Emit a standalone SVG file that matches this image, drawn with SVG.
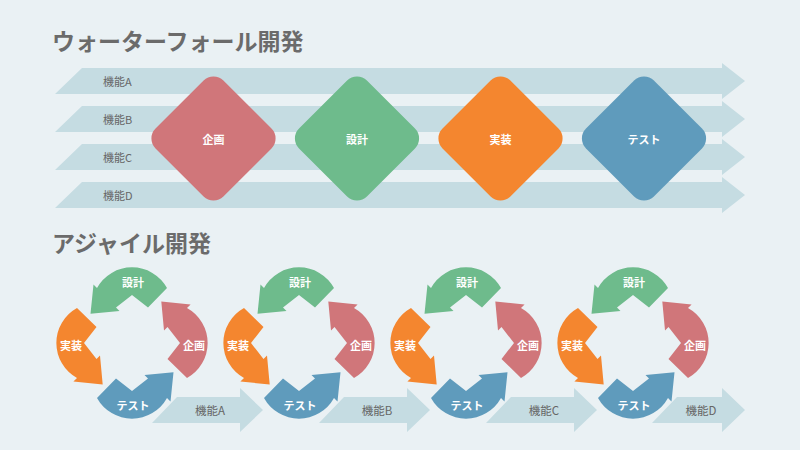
<svg xmlns="http://www.w3.org/2000/svg" xmlns:xlink="http://www.w3.org/1999/xlink" width="800" height="450" viewBox="0 0 800 450">
<defs>
<style>
text{font-family:"Noto Sans CJK JP","Noto Sans",sans-serif}
.title{font-size:23px;font-weight:700;fill:#6b6b6b;dominant-baseline:central}
.lbl{font-size:11px;fill:#666;dominant-baseline:central}
.flbl{font-size:11.5px;fill:#666;text-anchor:middle;dominant-baseline:central}
.wl{font-size:11px;font-weight:700;fill:#fff;text-anchor:middle;dominant-baseline:central}
.band{fill:#c5dce2}
.red{fill:#d0767a}
.green{fill:#6ebb8c}
.orange{fill:#f4862f}
.blue{fill:#5f9bbc}
</style>
<path id="bandArrow" d="M0,13 L27,-13 L667,-13 L667,-18 L690,0 L667,18 L667,13 Z"/>
<path id="featArrow" d="M0,13 L25,-13 L88,-13 L88,-22 L111,0 L88,22 L88,13 Z"/>
<path id="featArrowShort" d="M0,13 L25,-13 L70,-13 L70,-22 L93,0 L70,22 L70,13 Z"/>
<rect id="dia" x="-48" y="-48" width="96" height="96" rx="14" transform="rotate(45)"/>
<path id="seg" d="M-16,-35.5 L0,-48 L16,-35.5 L35,-55 A40,40 0 0 0 -35,-55 L-38.5,-58.6 L-41.5,-29.3 L-12.5,-32 Z"/>
</defs>
<rect width="800" height="450" fill="#eaf1f4"/>

<text class="title" x="52" y="40">ウォーターフォール開発</text>
<text class="title" x="52" y="242">アジャイル開発</text>

<g id="connectors">
  <use xlink:href="#bandArrow" class="band" transform="translate(55,81)"/>
  <use xlink:href="#bandArrow" class="band" transform="translate(55,119)"/>
  <use xlink:href="#bandArrow" class="band" transform="translate(55,157)"/>
  <use xlink:href="#bandArrow" class="band" transform="translate(55,195)"/>
  <use xlink:href="#featArrow" class="band" transform="translate(152,410)"/>
  <use xlink:href="#featArrow" class="band" transform="translate(319,410)"/>
  <use xlink:href="#featArrow" class="band" transform="translate(486,410)"/>
  <use xlink:href="#featArrowShort" class="band" transform="translate(652,410)"/>
</g>

<g id="band-labels">
  <text class="lbl" x="103" y="81">機能A</text>
  <text class="lbl" x="103" y="119">機能B</text>
  <text class="lbl" x="103" y="157">機能C</text>
  <text class="lbl" x="103" y="195">機能D</text>
  <text class="flbl" x="210" y="410">機能A</text>
  <text class="flbl" x="377" y="410">機能B</text>
  <text class="flbl" x="544" y="410">機能C</text>
  <text class="flbl" x="701" y="410">機能D</text>
</g>

<g id="wf-plan" transform="translate(213.5,138.5)"><use xlink:href="#dia" class="red"/><text class="wl" x="0" y="0">企画</text></g>
<g id="wf-design" transform="translate(357,138.5)"><use xlink:href="#dia" class="green"/><text class="wl" x="0" y="0">設計</text></g>
<g id="wf-impl" transform="translate(500.5,138.5)"><use xlink:href="#dia" class="orange"/><text class="wl" x="0" y="0">実装</text></g>
<g id="wf-test" transform="translate(644,138.5)"><use xlink:href="#dia" class="blue"/><text class="wl" x="0" y="0">テスト</text></g>

<g id="cycle1" transform="translate(132,343)">
  <g id="c1-plan"><use xlink:href="#seg" class="red" transform="rotate(90)"/><text class="wl" x="62" y="2">企画</text></g>
  <g id="c1-design"><use xlink:href="#seg" class="green"/><text class="wl" x="1" y="-61">設計</text></g>
  <g id="c1-impl"><use xlink:href="#seg" class="orange" transform="rotate(-90)"/><text class="wl" x="-61" y="2">実装</text></g>
  <g id="c1-test"><use xlink:href="#seg" class="blue" transform="rotate(180)"/><text class="wl" x="1" y="62">テスト</text></g>
</g>
<g id="cycle2" transform="translate(299,343)">
  <g id="c2-plan"><use xlink:href="#seg" class="red" transform="rotate(90)"/><text class="wl" x="62" y="2">企画</text></g>
  <g id="c2-design"><use xlink:href="#seg" class="green"/><text class="wl" x="1" y="-61">設計</text></g>
  <g id="c2-impl"><use xlink:href="#seg" class="orange" transform="rotate(-90)"/><text class="wl" x="-61" y="2">実装</text></g>
  <g id="c2-test"><use xlink:href="#seg" class="blue" transform="rotate(180)"/><text class="wl" x="1" y="62">テスト</text></g>
</g>
<g id="cycle3" transform="translate(466,343)">
  <g id="c3-plan"><use xlink:href="#seg" class="red" transform="rotate(90)"/><text class="wl" x="62" y="2">企画</text></g>
  <g id="c3-design"><use xlink:href="#seg" class="green"/><text class="wl" x="1" y="-61">設計</text></g>
  <g id="c3-impl"><use xlink:href="#seg" class="orange" transform="rotate(-90)"/><text class="wl" x="-61" y="2">実装</text></g>
  <g id="c3-test"><use xlink:href="#seg" class="blue" transform="rotate(180)"/><text class="wl" x="1" y="62">テスト</text></g>
</g>
<g id="cycle4" transform="translate(633,343)">
  <g id="c4-plan"><use xlink:href="#seg" class="red" transform="rotate(90)"/><text class="wl" x="62" y="2">企画</text></g>
  <g id="c4-design"><use xlink:href="#seg" class="green"/><text class="wl" x="1" y="-61">設計</text></g>
  <g id="c4-impl"><use xlink:href="#seg" class="orange" transform="rotate(-90)"/><text class="wl" x="-61" y="2">実装</text></g>
  <g id="c4-test"><use xlink:href="#seg" class="blue" transform="rotate(180)"/><text class="wl" x="1" y="62">テスト</text></g>
</g>
</svg>
